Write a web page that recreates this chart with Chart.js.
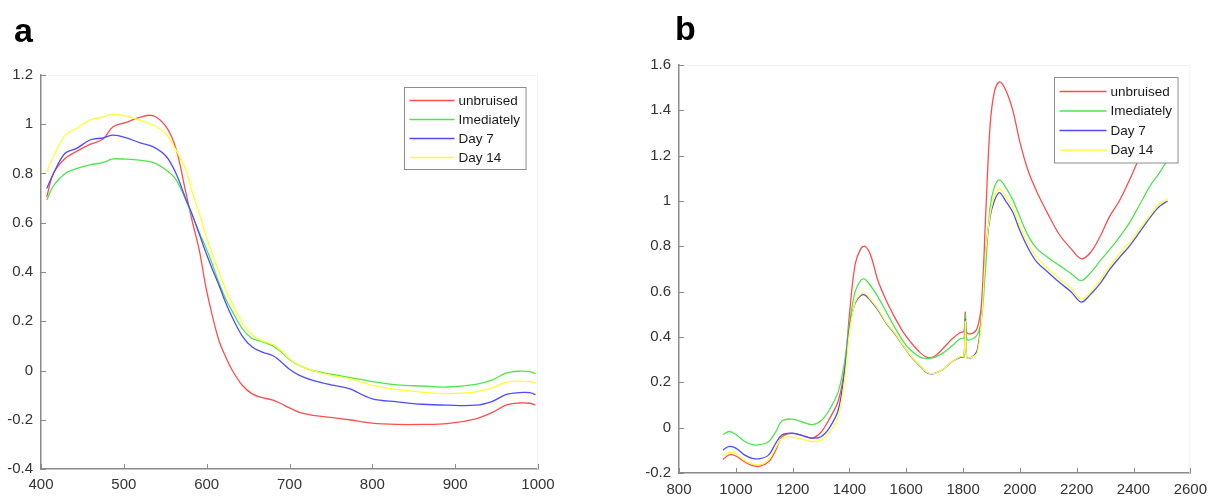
<!DOCTYPE html>
<html>
<head>
<meta charset="utf-8">
<script src="https://cdn.jsdelivr.net/npm/chart.js@4.4.0/dist/chart.umd.min.js"></script>
<style>
    body { margin: 0; background: #fff; }
    #wrap { position: relative; width: 1215px; height: 497px; overflow: hidden; }
    canvas { position: absolute; top: 0; }
    .panel { position: absolute; font-family: "Liberation Sans", Arial, sans-serif; font-weight: bold; font-size: 34px; line-height: 34px; color: #000; }
</style>
</head>
<body>
<div id="wrap">
    <canvas id="chartA" width="600" height="497" style="left:0px"></canvas>
    <canvas id="chartB" width="595" height="497" style="left:620px"></canvas>
    <div class="panel" style="left:14px; top:13px;">a</div>
    <div class="panel" style="left:675px; top:11px;">b</div>
</div>
<script>
// series names and colours
const seriesNames = ['unbruised', 'Imediately', 'Day 7', 'Day 14'];
const seriesColors = ['#ff4d4d', '#4de64d', '#4d4dff', '#ffff33'];

// ---- panel a (visible range) ----
const wlA = [407, 415, 429, 443, 459, 475, 487, 503, 519, 535, 551, 563, 575, 583, 591, 599, 607, 615, 623, 631,
             643, 655, 667, 680, 690, 700, 712, 728, 750, 772, 800, 830, 860, 890, 925, 945, 962, 977, 990, 997];
const unbruisedA = [0.705, 0.80, 0.861, 0.89, 0.918, 0.94, 0.99, 1.008, 1.028, 1.035, 0.99, 0.90, 0.72, 0.60, 0.49, 0.34, 0.22, 0.12, 0.055, 0.0,
                    -0.06, -0.095, -0.11, -0.12, -0.135, -0.152, -0.17, -0.182, -0.19, -0.20, -0.214, -0.219, -0.219, -0.216, -0.196, -0.17, -0.14, -0.132, -0.133, -0.14];
const imediatelyA = [0.692, 0.75, 0.80, 0.82, 0.835, 0.845, 0.859, 0.858, 0.854, 0.845, 0.814, 0.775, 0.69, 0.625, 0.56, 0.50, 0.43, 0.355, 0.29, 0.24,
                     0.17, 0.13, 0.117, 0.10, 0.075, 0.045, 0.02, 0.0, -0.015, -0.028, -0.045, -0.058, -0.063, -0.067, -0.056, -0.038, -0.01, -0.003, -0.005, -0.013];
const day7A = [0.739, 0.80, 0.882, 0.902, 0.936, 0.945, 0.956, 0.945, 0.925, 0.909, 0.87, 0.80, 0.695, 0.63, 0.555, 0.48, 0.41, 0.345, 0.275, 0.215,
               0.14, 0.095, 0.075, 0.06, 0.035, 0.005, -0.02, -0.04, -0.058, -0.074, -0.115, -0.127, -0.137, -0.141, -0.141, -0.125, -0.097, -0.09, -0.09, -0.098];
const day14A = [0.807, 0.868, 0.956, 0.983, 1.018, 1.03, 1.041, 1.033, 1.017, 0.997, 0.96, 0.895, 0.815, 0.72, 0.64, 0.55, 0.47, 0.40, 0.33, 0.27,
                0.195, 0.145, 0.12, 0.105, 0.08, 0.048, 0.02, 0.0, -0.02, -0.033, -0.06, -0.078, -0.088, -0.094, -0.087, -0.07, -0.047, -0.043, -0.045, -0.051];
const xTicksA = [400, 500, 600, 700, 800, 900, 1000];
const yTicksA = [-0.4, -0.2, 0, 0.2, 0.4, 0.6, 0.8, 1, 1.2];

// ---- panel b (NIR range) ----
const wlB = [955, 977, 1000, 1030, 1058, 1085, 1116, 1140, 1163, 1198, 1235, 1268, 1300, 1330, 1361, 1384, 1400, 1420, 1440, 1455,
             1475, 1500, 1530, 1558, 1590, 1617, 1650, 1675, 1700, 1730, 1760, 1790, 1803, 1808, 1813, 1830, 1850, 1865, 1880, 1895,
             1910, 1928, 1950, 1975, 2000, 2030, 2060, 2100, 2140, 2180, 2216, 2250, 2285, 2315, 2350, 2385, 2420, 2460, 2490, 2520];
const unbruisedB = [-0.14, -0.12, -0.125, -0.15, -0.168, -0.17, -0.15, -0.10, -0.04, -0.025, -0.035, -0.046, -0.02, 0.04, 0.12, 0.27, 0.50, 0.72, 0.79, 0.80,
                    0.76, 0.65, 0.56, 0.49, 0.42, 0.375, 0.33, 0.31, 0.315, 0.35, 0.39, 0.42, 0.425, 0.51, 0.42, 0.415, 0.44, 0.55, 0.95, 1.33,
                    1.48, 1.525, 1.49, 1.40, 1.26, 1.13, 1.04, 0.94, 0.85, 0.79, 0.745, 0.775, 0.85, 0.93, 1.0, 1.09, 1.19, 1.30, 1.38, 1.45];
const imediatelyB = [-0.03, -0.017, -0.03, -0.06, -0.075, -0.075, -0.061, -0.02, 0.03, 0.038, 0.025, 0.013, 0.03, 0.08, 0.16, 0.30, 0.46, 0.60, 0.65, 0.655,
                     0.625, 0.578, 0.51, 0.446, 0.38, 0.34, 0.31, 0.306, 0.31, 0.33, 0.36, 0.392, 0.395, 0.50, 0.39, 0.39, 0.41, 0.48, 0.72, 0.97,
                     1.06, 1.093, 1.06, 1.005, 0.93, 0.845, 0.79, 0.75, 0.715, 0.68, 0.649, 0.685, 0.74, 0.784, 0.84, 0.902, 0.98, 1.07, 1.122, 1.18];
const day7B = [-0.098, -0.083, -0.09, -0.12, -0.135, -0.137, -0.12, -0.07, -0.031, -0.024, -0.035, -0.046, -0.04, 0.0, 0.08, 0.26, 0.44, 0.55, 0.583, 0.585,
               0.56, 0.52, 0.46, 0.417, 0.36, 0.314, 0.27, 0.241, 0.24, 0.258, 0.29, 0.31, 0.312, 0.48, 0.31, 0.31, 0.343, 0.50, 0.78, 0.93,
               1.0, 1.037, 1.0, 0.95, 0.87, 0.79, 0.73, 0.685, 0.64, 0.60, 0.554, 0.59, 0.64, 0.696, 0.75, 0.80, 0.86, 0.93, 0.975, 1.0];
const day14B = [-0.124, -0.109, -0.115, -0.145, -0.16, -0.163, -0.142, -0.09, -0.046, -0.042, -0.052, -0.061, -0.055, -0.02, 0.049, 0.22, 0.42, 0.555, 0.59, 0.593,
                0.565, 0.525, 0.463, 0.42, 0.362, 0.316, 0.272, 0.243, 0.24, 0.258, 0.29, 0.313, 0.315, 0.47, 0.31, 0.31, 0.33, 0.48, 0.78, 0.94,
                1.02, 1.055, 1.02, 0.97, 0.89, 0.81, 0.75, 0.70, 0.655, 0.615, 0.567, 0.60, 0.655, 0.71, 0.765, 0.815, 0.875, 0.94, 0.985, 1.01];
const xTicksB = [800, 1000, 1200, 1400, 1600, 1800, 2000, 2200, 2400, 2600];
const yTicksB = [-0.2, 0, 0.2, 0.4, 0.6, 0.8, 1, 1.2, 1.4, 1.6];

const FONT = '"Liberation Sans", Arial, sans-serif';
const AXIS_COLOR = '#8a8a8a';

function toPoints(xs, ys) {
    return xs.map((x, i) => ({ x: x, y: ys[i] }));
}

function fmt(v) {
    return String(parseFloat(v.toFixed(2)));
}

// MATLAB-like inward ticks, faint box and legend
const matlabLook = {
    id: 'matlabLook',
    afterDraw(chart, args, opts) {
        const ctx = chart.ctx;
        const area = chart.chartArea;
        const xs = chart.scales.x, ys = chart.scales.y;
        ctx.save();
        // faint box
        ctx.strokeStyle = '#f2f2f2';
        ctx.lineWidth = 1;
        ctx.beginPath();
        ctx.moveTo(area.left, area.top + 0.5);
        ctx.lineTo(area.right - 0.5, area.top + 0.5);
        ctx.lineTo(area.right - 0.5, area.bottom);
        ctx.stroke();
        // inward ticks
        ctx.strokeStyle = AXIS_COLOR;
        ctx.beginPath();
        xs.ticks.forEach(t => {
            const px = Math.round(xs.getPixelForValue(t.value)) + 0.5;
            ctx.moveTo(px, area.bottom);
            ctx.lineTo(px, area.bottom - 5);
        });
        ys.ticks.forEach(t => {
            const py = Math.round(ys.getPixelForValue(t.value)) + 0.5;
            ctx.moveTo(area.left, py);
            ctx.lineTo(area.left + 5, py);
        });
        ctx.stroke();

        // legend box
        ctx.font = opts.fontSize + 'px ' + FONT;
        let maxW = 0;
        seriesNames.forEach(n => { maxW = Math.max(maxW, ctx.measureText(n).width); });
        const boxW = opts.inset + opts.lineLen + opts.gap + maxW + 6;
        const boxH = opts.first * 2 + opts.rowH * (seriesNames.length - 1) - 1;
        const bx = Math.round(area.right - opts.right - boxW) + 0.5;
        const by = Math.round(area.top + opts.top) + 0.5;
        ctx.fillStyle = '#fff';
        ctx.fillRect(bx, by, boxW, boxH);
        ctx.strokeStyle = '#8c8c8c';
        ctx.lineWidth = 1;
        ctx.strokeRect(bx, by, boxW, boxH);
        ctx.textBaseline = 'middle';
        ctx.textAlign = 'left';
        seriesNames.forEach((n, i) => {
            const ry = by + opts.first + i * opts.rowH;
            ctx.strokeStyle = seriesColors[i];
            ctx.lineWidth = 1.3;
            ctx.beginPath();
            ctx.moveTo(bx + opts.inset, ry);
            ctx.lineTo(bx + opts.inset + opts.lineLen, ry);
            ctx.stroke();
            ctx.fillStyle = '#1a1a1a';
            ctx.fillText(n, bx + opts.inset + opts.lineLen + opts.gap, ry + 0.5);
        });
        ctx.restore();
    }
};

function makeChart(canvasId, xs, seriesList, xTicks, yTicks, geo, legendOpts) {
    const ctx = document.getElementById(canvasId).getContext('2d');
    const datasets = seriesList.map((vals, i) => ({
        label: seriesNames[i],
        data: toPoints(xs, vals),
        borderColor: seriesColors[i],
        backgroundColor: seriesColors[i],
        borderWidth: 1.3,
        pointRadius: 0,
        fill: false,
        tension: 0.35,
        order: seriesList.length - i
    }));
    return new Chart(ctx, {
        type: 'line',
        data: { datasets: datasets },
        plugins: [matlabLook],
        options: {
            responsive: false,
            animation: false,
            layout: { padding: { left: 0, right: geo.right, top: geo.top, bottom: 0 } },
            plugins: {
                legend: { display: false },
                tooltip: { enabled: false },
                matlabLook: legendOpts
            },
            scales: {
                x: {
                    type: 'linear',
                    min: xTicks[0],
                    max: xTicks[xTicks.length - 1],
                    afterBuildTicks: s => { s.ticks = xTicks.map(v => ({ value: v })); },
                    afterFit: s => { s.height = geo.xh; },
                    grid: { display: false, drawTicks: false },
                    border: { display: true, color: AXIS_COLOR, width: 1.5 },
                    ticks: {
                        padding: geo.xpad,
                        color: '#333',
                        font: { family: FONT, size: 15 },
                        maxRotation: 0,
                        autoSkip: false,
                        callback: v => fmt(v)
                    }
                },
                y: {
                    min: yTicks[0],
                    max: yTicks[yTicks.length - 1],
                    afterBuildTicks: s => { s.ticks = yTicks.map(v => ({ value: v })); },
                    afterFit: s => { s.width = geo.yw; },
                    grid: { display: false, drawTicks: false },
                    border: { display: true, color: AXIS_COLOR, width: 1.5 },
                    ticks: {
                        padding: 8,
                        color: '#333',
                        font: { family: FONT, size: 15 },
                        autoSkip: false,
                        callback: v => fmt(v)
                    }
                }
            }
        }
    });
}

makeChart('chartA', wlA, [unbruisedA, imediatelyA, day7A, day14A], xTicksA, yTicksA,
    { right: 62, top: 75, xh: 28, yw: 41, xpad: 7 },
    { fontSize: 13.5, inset: 5, lineLen: 45, gap: 4, first: 13, rowH: 19, right: 12, top: 12 });

makeChart('chartB', wlB, [unbruisedB, imediatelyB, day7B, day14B], xTicksB, yTicksB,
    { right: 20, top: 65, xh: 24, yw: 59, xpad: 8 },
    { fontSize: 13.5, inset: 5, lineLen: 47, gap: 4, first: 14, rowH: 19.5, right: 13, top: 12 });
</script>
</body>
</html>
